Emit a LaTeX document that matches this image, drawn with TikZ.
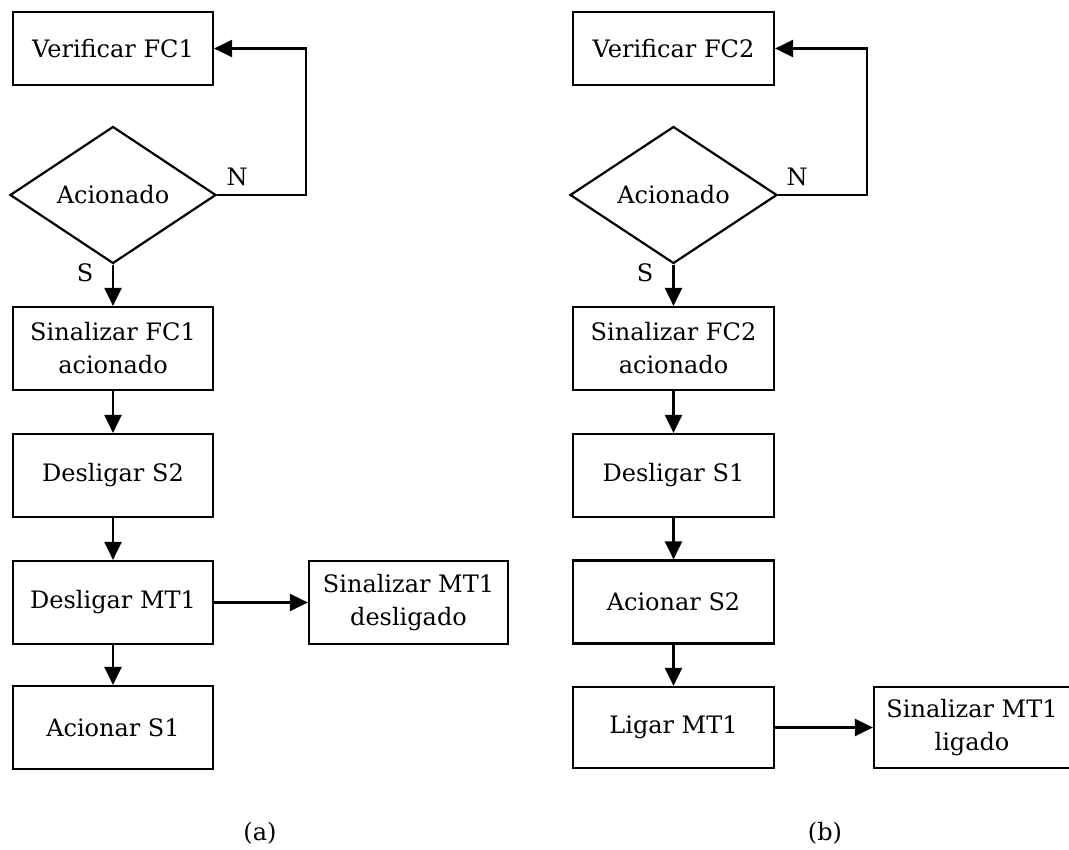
\documentclass[tikz,border=0pt]{standalone}
\usepackage{fontspec}
\setmainfont{DejaVu Serif}
\usetikzlibrary{shapes.geometric,arrows.meta}
\begin{document}
\begin{tikzpicture}[x=1pt,y=-1pt,
  font=\fontsize{24}{33}\selectfont,
  box/.style={draw,line width=2.2pt,rectangle,minimum width=200pt,minimum height=83pt,inner sep=0pt,align=center},
  dec/.style={draw,line width=2.2pt,diamond,minimum width=206pt,minimum height=137pt,inner sep=0pt},
  flow/.style={line width=2.2pt,-{Triangle[length=18pt,width=17pt]}},
  lbl/.style={inner sep=0pt}]
\useasboundingbox (0,0) rectangle (1069,850);
% (a)
\node[box,minimum height=73pt] (v1) at (113,48.5) {Verificar FC1};
\node[dec] (d1) at (113,195) {Acionado};
\node[box] (sf1) at (113,348.5) {Sinalizar FC1\\acionado};
\node[box] (ds2) at (113,475.5) {Desligar S2};
\node[box] (dm1) at (113,602.5) {Desligar MT1};
\node[box] (as1) at (113,727.5) {Acionar S1};
\node[box,minimum width=199pt] (smd) at (408.5,602.5) {Sinalizar MT1\\desligado};
\node[lbl] (n1) at (237,177) {N};
\node[lbl] (s1) at (85,273) {S};
\node[lbl] (ca) at (260,833) {(a)};
\coordinate (l1a) at (306,195);
\coordinate (l1b) at (306,48.5);
\draw[flow] (d1.east) -- (l1a) -- (l1b) -- (v1.east);
\draw[flow] (d1.south) -- (sf1.north);
\draw[flow] (sf1.south) -- (ds2.north);
\draw[flow] (ds2.south) -- (dm1.north);
\draw[flow] (dm1.south) -- (as1.north);
\draw[flow] (dm1.east) -- (smd.west);
% (b)
\node[box,minimum width=201pt,minimum height=73pt] (v2) at (673.5,48.5) {Verificar FC2};
\node[dec,minimum width=207pt] (d2) at (673.5,195) {Acionado};
\node[box,minimum width=201pt] (sf2) at (673.5,348.5) {Sinalizar FC2\\acionado};
\node[box,minimum width=201pt] (ds1) at (673.5,475.5) {Desligar S1};
\node[box,minimum width=201pt] (as2) at (673.5,602) {Acionar S2};
\node[box,minimum width=201pt,minimum height=81pt] (lm1) at (673.5,727.5) {Ligar MT1};
\node[box,minimum width=196pt,minimum height=81pt] (sml) at (972,727.5) {Sinalizar MT1\\ligado};
\node[lbl] (n2) at (797,177) {N};
\node[lbl] (s2) at (645,273) {S};
\node[lbl] (cb) at (825,833) {(b)};
\coordinate (l2a) at (867,195);
\coordinate (l2b) at (867,48.5);
\draw[flow] (d2.east) -- (l2a) -- (l2b) -- (v2.east);
\draw[flow] (d2.south) -- (sf2.north);
\draw[flow] (sf2.south) -- (ds1.north);
\draw[flow] (ds1.south) -- (as2.north);
\draw[flow] (as2.south) -- (lm1.north);
\draw[flow] (lm1.east) -- (sml.west);
\end{tikzpicture}
\end{document}
